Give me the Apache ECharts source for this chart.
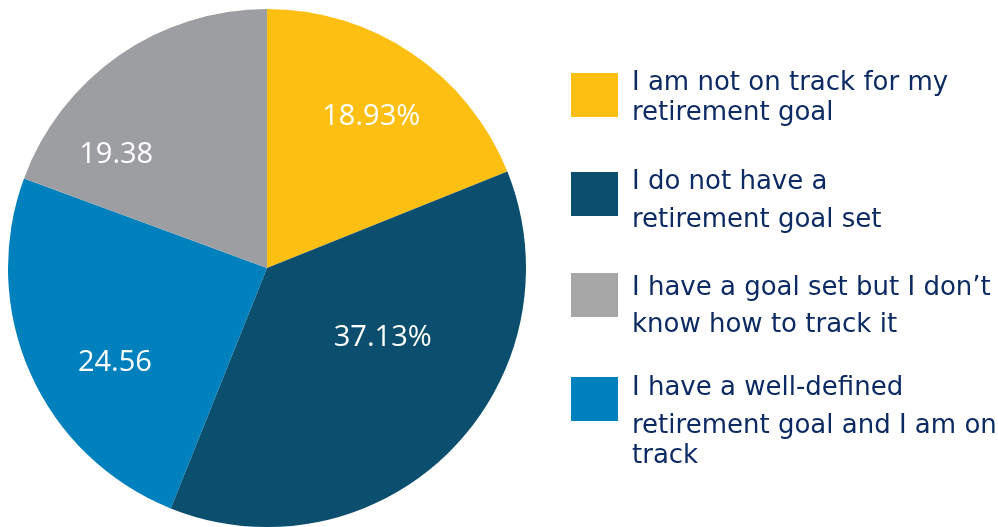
<!DOCTYPE html>
<html>
<head>
<meta charset="utf-8">
<title>Retirement goal tracking</title>
<script src="https://cdn.jsdelivr.net/npm/echarts@6/dist/echarts.min.js"></script>
<style>
  html, body { margin: 0; padding: 0; background: #ffffff; }
  #chart { width: 998px; height: 527px; }
</style>
</head>
<body>
<div id="chart"></div>
<script>
// Slice categories, in drawing order (clockwise from 12 o'clock)
const categories = [
  'I am not on track for my\nretirement goal',
  'I do not have a\nretirement goal set',
  'I have a well-defined\nretirement goal and I am on\ntrack',
  'I have a goal set but I don\u2019t\nknow how to track it'
];
const values = [18.93, 37.13, 24.56, 19.38];
const valueSuffix = ['%', '%', '', ''];
const sliceColors = ['#FDBF12', '#0B4E6E', '#0180BE', '#9D9EA2'];

// Legend order differs from the slice order
const legendOrder = [0, 1, 3, 2];
const legendColors = ['#FDBF12', '#0B4E6E', '#A6A6A6', '#0180BE'];

// Hand-tuned label nudges and legend layout (line centres)
const labelOffsets = [[30, -42], [22, -24], [-31, 41], [-75, -5]];
const legendBoxTop = [73, 172, 273, 377];
const legendLineMid = [[83, 113], [182, 220], [288, 325], [388, 426, 456]];

const FONT = '"DejaVu Sans", "Open Sans", sans-serif';
const LABEL_FONT = '"Open Sans", "Noto Sans", sans-serif';
const TEXT_NAVY = '#0C2B63';

const chart = echarts.init(document.getElementById('chart'), null, { renderer: 'canvas' });

const pieData = values.map((v, i) => ({
  name: categories[i],
  value: v,
  itemStyle: { color: sliceColors[i] },
  label: { offset: labelOffsets[i] }
}));

const legendGraphics = [];
legendOrder.forEach((idx, k) => {
  legendGraphics.push({
    type: 'rect',
    left: 571,
    top: legendBoxTop[k],
    shape: { width: 47, height: 44 },
    style: { fill: legendColors[k] }
  });
  categories[idx].split('\n').forEach((line, j) => {
    legendGraphics.push({
      type: 'text',
      x: 632,
      y: legendLineMid[k][j],
      style: {
        text: line,
        font: '26px ' + FONT,
        fill: TEXT_NAVY,
        verticalAlign: 'middle',
        textVerticalAlign: 'middle'
      }
    });
  });
});

chart.setOption({
  animation: false,
  backgroundColor: '#ffffff',
  series: [{
    type: 'pie',
    center: [267, 268],
    radius: 259,
    startAngle: 90,
    clockwise: true,
    silent: true,
    data: pieData,
    itemStyle: { borderWidth: 0 },
    label: {
      show: true,
      position: 'inside',
      color: '#ffffff',
      fontFamily: LABEL_FONT,
      fontSize: 29,
      fontWeight: 'normal',
      formatter: p => p.value.toFixed(2) + valueSuffix[p.dataIndex]
    },
    labelLine: { show: false }
  }],
  graphic: legendGraphics
});
</script>
</body>
</html>
